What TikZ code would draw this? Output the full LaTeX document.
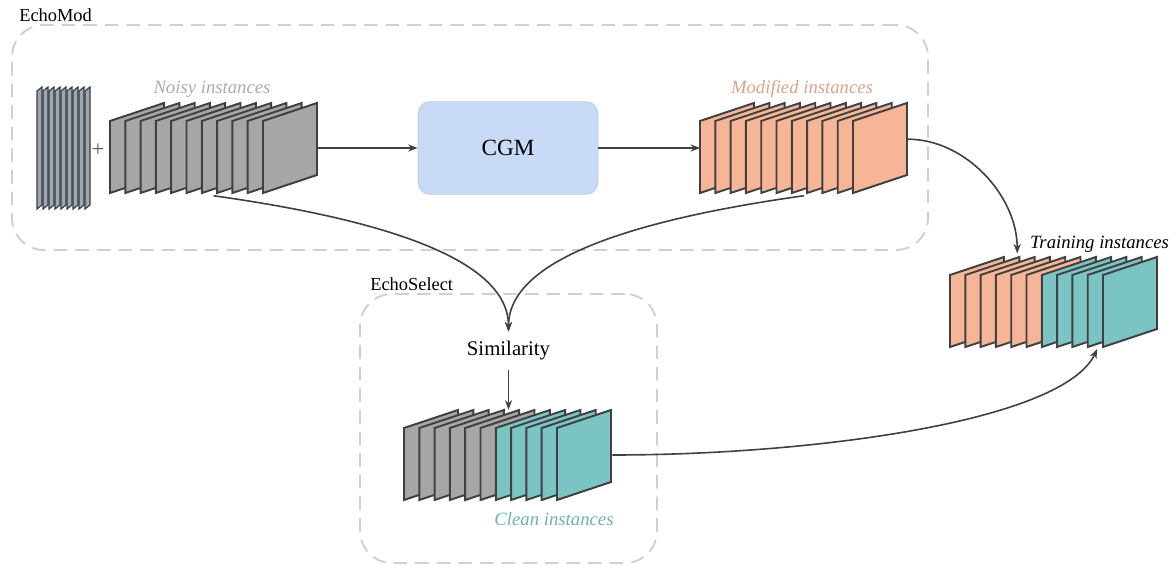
\documentclass[tikz,border=0pt]{standalone}
\usepackage{fontspec}
\setmainfont{Liberation Serif}
\usepackage{xcolor}
\definecolor{framegray}{HTML}{D0D0D0}
\definecolor{edgegray}{HTML}{404040}
\definecolor{slicegray}{HTML}{A6A6A8}
\definecolor{sliceorange}{HTML}{F7B598}
\definecolor{sliceteal}{HTML}{7BC4C4}
\definecolor{thinedge}{HTML}{2A4050}
\definecolor{cgmblue}{HTML}{C9DAF6}
\definecolor{cgmedge}{HTML}{B9C9E2}
\usetikzlibrary{arrows.meta,positioning}
\tikzset{
  groupbox/.style={
    rectangle, rounded corners=20pt, draw=framegray, line width=1.2pt,
    dash pattern=on 8.5pt off 5pt, inner sep=0pt
  },
  grouplabel/.style={anchor=base west, inner sep=0pt, font=\fontsize{11.5}{13}\selectfont},
  stacklabel/.style={inner sep=0pt, font=\fontsize{11.7}{13}\selectfont\itshape},
  stackarea/.style={minimum width=129.4pt, minimum height=56.25pt, inner sep=0pt},
  slice/.style={draw=edgegray, line width=1.2pt, line join=miter},
  thinslice/.style={draw=thinedge, fill=slicegray, line width=0.7pt},
  cgmnode/.style={
    rectangle, rounded corners=7.5pt, draw=cgmedge, thin, fill=cgmblue,
    minimum width=112.5pt, minimum height=58pt, font=\fontsize{14.5}{16}\selectfont
  },
  arrow/.style={-{Stealth[length=6pt,width=4.5pt]}, line width=1pt, draw=edgegray}
}

% eleven slanted slices: x, y of the first one, how many get the first colour, two colours
\newcommand{\slicestack}[5]{%
  \foreach \i in {0,...,10}{
    \pgfmathsetmacro\sx{#1+15.3*\i}
    \ifnum\i<#3 \def\sc{#4}\else\def\sc{#5}\fi
    \draw[slice, fill=\sc] (\sx,#2) -- ++(54,18) -- ++(0,72) -- ++(-54,-18) -- cycle;
  }%
}

\begin{document}
\begin{tikzpicture}[x=0.625pt,y=0.625pt]
  \useasboundingbox (0,0) rectangle (1176,566);

  % dashed group frames
  \node[groupbox, minimum width=572.5pt, minimum height=140.6pt] (echomod) at (470,428.5) {};
  \node[grouplabel] at (19,544) {EchoMod};
  \node[groupbox, minimum width=185.6pt, minimum height=168.1pt] (echoselect) at (508.5,137.5) {};
  \node[grouplabel] at (370,276) {EchoSelect};

  % thin input slices
  \foreach \i in {0,...,8}{
    \draw[thinslice] (37+6*\i,357) -- ++(5,4) -- ++(0,118) -- ++(-5,-4) -- cycle;
  }
  \node[font=\fontsize{14}{15}\selectfont, text=black!65] (plus) at (98,416) {+};

  % instance stacks
  \slicestack{110}{373}{11}{slicegray}{slicegray}
  \node[stackarea] (noisy) at (213.5,418) {};
  \node[stacklabel, text=black!33] at (212,477) {Noisy instances};

  \node[cgmnode] (cgm) at (508,418) {CGM};

  \slicestack{700}{373}{11}{sliceorange}{sliceorange}
  \node[stackarea] (modified) at (804,418) {};
  \node[stacklabel, text=sliceorange!85!black!90] at (802,477) {Modified instances};

  \node[font=\fontsize{13}{15}\selectfont, inner sep=6pt] (similarity) at (508.5,215) {Similarity};

  \slicestack{404}{66}{6}{slicegray}{sliceteal}
  \node[stackarea] (clean) at (508.5,111) {};
  \node[stacklabel, text=sliceteal!90!black] at (554,47) {Clean instances};

  \slicestack{950}{219}{6}{sliceorange}{sliceteal}
  \node[stackarea] (training) at (1054,264) {};
  \node[stacklabel] at (1099.5,322) {Training instances};

  % connectors
  \draw[arrow] (noisy.east) -- (cgm.west);
  \draw[arrow] (cgm.east) -- (modified.west);
  \draw[arrow] ([yshift=-1.5pt]noisy.south) to[out=-8, in=90, out distance=112pt, in distance=44pt] (similarity.north);
  \draw[arrow] ([yshift=-1.5pt]modified.south) to[out=188, in=90, out distance=112pt, in distance=44pt] (similarity.north);
  \draw[arrow] (similarity.south) -- (clean.north);
  \draw[arrow] ([yshift=5.5pt]modified.east) to[out=0, in=90, out distance=36pt, in distance=36pt] ([xshift=-23pt,yshift=2pt]training.north);
  \draw[arrow] (clean.east) to[out=0, in=-115, out distance=125pt, in distance=50pt] ([xshift=27pt,yshift=-1pt]training.south);
\end{tikzpicture}
\end{document}
